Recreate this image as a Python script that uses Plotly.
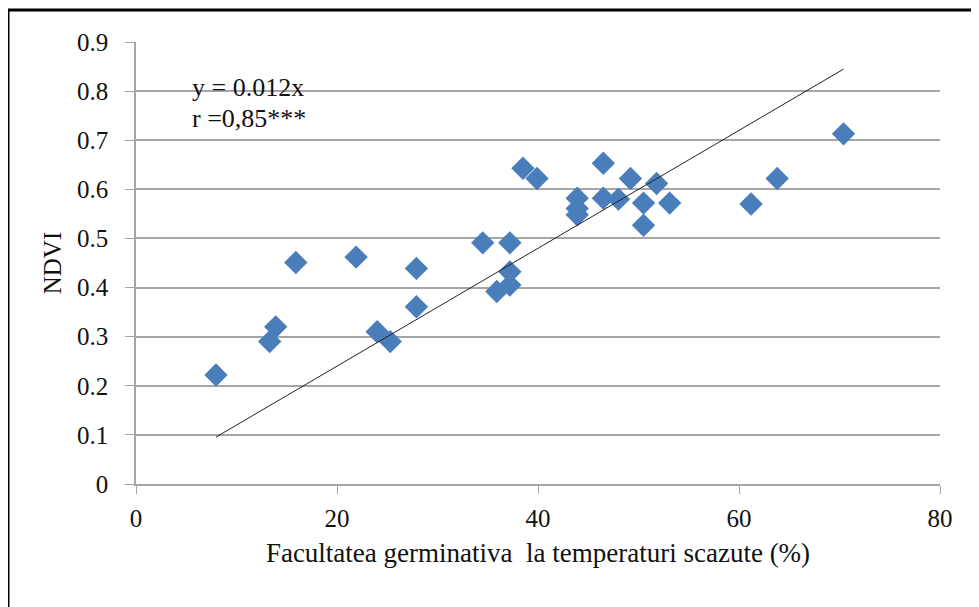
import plotly.graph_objects as go

# Data
germ = [7.96, 13.3, 13.9, 15.9, 21.9, 24.0, 25.3, 27.9, 27.9, 34.5,
        35.9, 37.2, 37.2, 37.2, 38.5, 39.9, 43.9, 43.9, 43.9, 46.5,
        46.5, 48.0, 49.2, 50.5, 50.5, 51.8, 53.1, 61.2, 63.8, 70.4]
ndvi = [0.222, 0.290, 0.320, 0.451, 0.462, 0.310, 0.290, 0.439, 0.361, 0.491,
        0.392, 0.405, 0.432, 0.491, 0.643, 0.622, 0.582, 0.561, 0.548, 0.653,
        0.582, 0.580, 0.622, 0.572, 0.527, 0.612, 0.572, 0.570, 0.622, 0.713]
slope = 0.012
x_ticks = [0, 20, 40, 60, 80]
y_ticks = [0, 0.1, 0.2, 0.3, 0.4, 0.5, 0.6, 0.7, 0.8, 0.9]
y_tick_labels = ["0", "0.1", "0.2", "0.3", "0.4", "0.5", "0.6", "0.7", "0.8", "0.9"]

trend_x = [min(germ), max(germ)]
trend_y = [slope * v for v in trend_x]

FONT = "'Liberation Serif', 'Times New Roman', serif"
GRID = "#a6a6a6"

# plot area in page pixels: x 136..940, y 42..484 (body has 8px margin)
PW, PH = 804, 442

fig = go.Figure()
fig.add_trace(go.Scatter(
    x=germ, y=ndvi, mode="markers",
    marker=dict(symbol="diamond", size=18, color="#4A7EBB",
                line=dict(width=0)),
    showlegend=False, hoverinfo="x+y"))
fig.add_trace(go.Scatter(
    x=trend_x, y=trend_y, mode="lines",
    line=dict(color="#222222", width=1),
    showlegend=False, hoverinfo="skip"))

fig.update_layout(
    width=979, height=607,
    margin=dict(l=128, r=47, t=34, b=131),
    paper_bgcolor="white", plot_bgcolor="white",
    font=dict(family=FONT, size=25, color="#111111"),
    xaxis=dict(range=[0, 80], tickvals=x_ticks, showgrid=False,
               zeroline=False, showline=True, linecolor=GRID, linewidth=1.5,
               ticks="outside", ticklen=8, tickcolor=GRID, tickwidth=1.2,
               ticklabelstandoff=3,
               tickfont=dict(family=FONT, size=25),
               title=dict(text="Facultatea germinativa  la temperaturi scazute (%)",
                          font=dict(family=FONT, size=27), standoff=12)),
    yaxis=dict(range=[0, 0.9], tickvals=y_ticks, ticktext=y_tick_labels,
               showgrid=True, gridcolor=GRID, gridwidth=1.5,
               zeroline=False, showline=True, linecolor=GRID, linewidth=1.5,
               ticks="outside", ticklen=9, tickcolor=GRID, tickwidth=1.2,
               ticklabelstandoff=12,
               tickfont=dict(family=FONT, size=25),
               title=dict(text="NDVI", font=dict(family=FONT, size=25),
                          standoff=8)),
    annotations=[
        dict(text="y = 0.012x", xref="paper", yref="paper",
             x=54 / PW, y=(484 - 88) / PH, xanchor="left",
             yanchor="middle", showarrow=False,
             font=dict(family=FONT, size=26, color="#111111")),
        dict(text="r =0,85***", xref="paper", yref="paper",
             x=54 / PW, y=(484 - 118) / PH, xanchor="left",
             yanchor="middle", showarrow=False,
             font=dict(family=FONT, size=26, color="#111111")),
    ],
    shapes=[
        dict(type="line", xref="paper", yref="paper",
             x0=(8 - 136) / PW, x1=1.2, y0=1 + 32 / PH, y1=1 + 32 / PH,
             line=dict(color="black", width=3)),
        dict(type="line", xref="paper", yref="paper",
             x0=(8 - 136) / PW, x1=(8 - 136) / PW, y0=-0.4, y1=1 + 32 / PH,
             line=dict(color="black", width=3)),
    ],
)

fig.write_html("out.html")
